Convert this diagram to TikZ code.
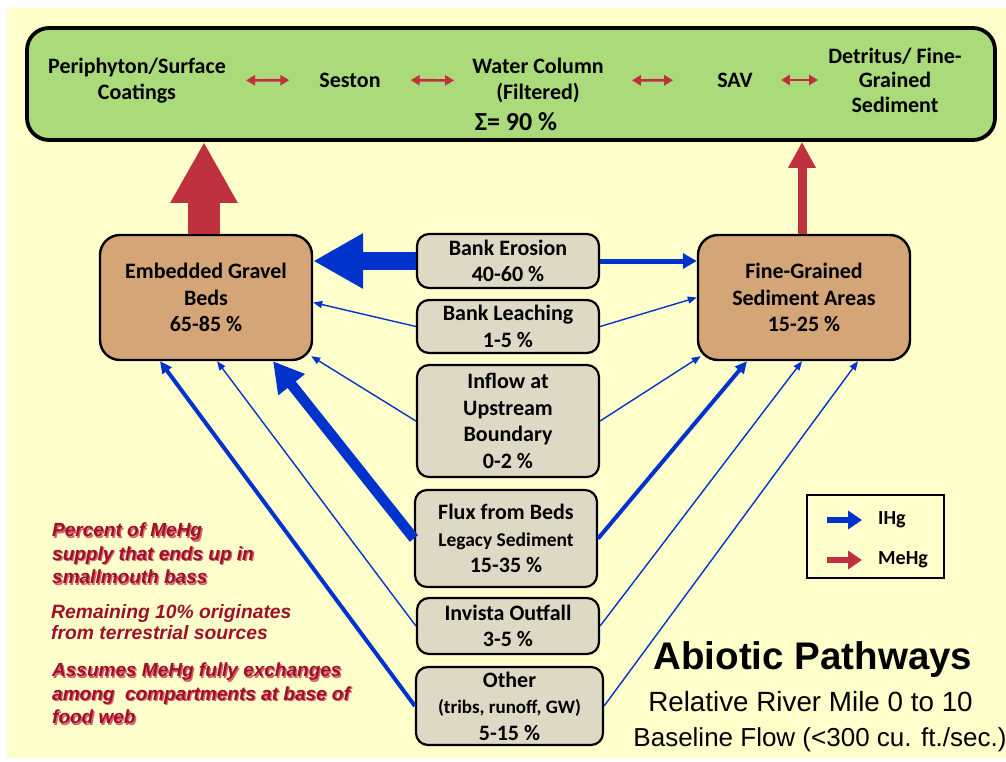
\documentclass[tikz,border=0pt]{standalone}
\usepackage{fontspec}
\setmainfont{Carlito}
\newfontfamily\arialfont{Liberation Sans}
\usetikzlibrary{arrows.meta}
\definecolor{paper}{RGB}{255,255,204}
\definecolor{poolgreen}{RGB}{170,218,122}
\definecolor{sedtan}{RGB}{212,165,118}
\definecolor{srcgray}{RGB}{221,217,196}
\definecolor{ihgblue}{RGB}{0,51,204}
\definecolor{mehgred}{RGB}{192,49,64}
\definecolor{notered}{RGB}{158,16,42}
\definecolor{noteshade}{RGB}{214,96,108}
\begin{document}
\begin{tikzpicture}[x=1pt,y=-1pt,
  lbl/.style={font=\bfseries\fontsize{22}{26.5}\selectfont, align=center, inner sep=0pt},
  sink/.style={lbl, draw, line width=2.4pt, fill=sedtan, rounded corners=20pt, minimum width=212pt, minimum height=125pt},
  src/.style={lbl, draw, line width=2.2pt, fill=srcgray, rounded corners=12pt, minimum width=182pt},
  flow/.style={ihgblue, line width=1.4pt, -{Triangle[length=9pt,width=7pt]}},
  flowmid/.style={ihgblue, line width=4pt, -{Triangle[length=12pt,width=11pt]}},
  swap/.style={mehgred, line width=2.6pt, {Triangle[length=9pt,width=10pt]}-{Triangle[length=9pt,width=10pt]}},
  note/.style={font=\arialfont\bfseries\itshape\fontsize{19}{23.5}\selectfont, align=left, anchor=north west, inner sep=0pt}]
  \useasboundingbox (0,0) rectangle (1006,762);
  \fill[paper] (7,8) rectangle (1006,758);

  \node[draw, line width=3.8pt, fill=poolgreen, rounded corners=22pt, minimum width=968pt, minimum height=112pt] (pool) at (511,84) {};
  \node[lbl] (peri) at (137,80.5) {Periphyton/Surface\\Coatings};
  \node[lbl] (seston) at (350,80) {Seston};
  \node[lbl] (water) at (538,80.5) {Water Column\\(Filtered)};
  \node[lbl, font=\bfseries\fontsize{26}{30}\selectfont] (sigma) at (516,122) {Σ= 90 \%};
  \node[lbl] (sav) at (735,80) {SAV};
  \node[lbl, font=\bfseries\fontsize{22}{24.5}\selectfont] (detritus) at (895,80) {Detritus/ Fine-\\Grained\\Sediment};
  \draw[swap, shorten <=20pt, shorten >=30pt] (peri.east) -- (seston.west);
  \draw[swap, shorten <=30pt, shorten >=18pt] (seston.east) -- (water.west);
  \draw[swap, shorten <=28pt, shorten >=44pt] (water.east) -- (sav.west);
  \draw[swap, shorten <=28pt, shorten >=10pt] (sav.east) -- (detritus.west);

  \node[sink] (gravel) at (206,297.5) {Embedded Gravel\\Beds\\65-85 \%};
  \node[sink] (fine) at (804,297.5) {Fine-Grained\\Sediment Areas\\15-25 \%};

  \node[src, minimum height=54pt] (erosion) at (508,261) {Bank Erosion\\40-60 \%};
  \node[src, minimum height=53pt] (leach) at (508,326.5) {Bank Leaching\\1-5 \%};
  \node[src, minimum height=112pt] (inflow) at (508,421) {Inflow at\\Upstream\\Boundary\\0-2 \%};
  \node[src, minimum height=97pt] (flux) at (506,538.5) {Flux from Beds\\{\fontsize{19.5}{22}\selectfont Legacy Sediment}\\15-35 \%};
  \node[src, minimum height=56pt] (invista) at (508,626) {Invista Outfall\\3-5 \%};
  \node[src, minimum height=78pt, minimum width=187pt] (other) at (509.5,706) {Other\\{\fontsize{19}{22}\selectfont (tribs, runoff, GW)}\\5-15 \%};

  \draw[mehgred, line width=32pt, -{Triangle[length=61pt,width=63pt]}] ([xshift=-2pt]gravel.north) -- ([xshift=-2pt]gravel.north |- pool.south);
  \draw[mehgred, line width=9pt, -{Triangle[length=26pt,width=26pt]}] ([xshift=-2pt]fine.north) -- ([xshift=-2pt]fine.north |- pool.south);

  \draw[ihgblue, line width=18pt, -{Triangle[length=50pt,width=52pt]}] (erosion.west) -- (erosion.west -| gravel.east);
  \draw[ihgblue, line width=5pt, -{Triangle[length=14pt,width=15pt]}] (erosion.east) -- (erosion.east -| fine.west);
  \draw[flow] (leach.west) -- ([yshift=-5pt]gravel.east);
  \draw[flow] (leach.east) -- (fine.west);
  \draw[flow] (inflow.west) -- ([shift={(-2pt,5pt)}]gravel.south east);
  \draw[flow] (inflow.east) -- ([shift={(4pt,5pt)}]fine.south west);
  \draw[ihgblue, line width=10.5pt, -{Triangle[length=30pt,width=32pt]}] (flux.west) -- ([xshift=67pt]gravel.south);
  \draw[flowmid] (flux.east) -- ([xshift=-57pt]fine.south);
  \draw[flow] (invista.west) -- ([xshift=11pt]gravel.south);
  \draw[flow] (invista.east) -- ([xshift=-2pt]fine.south);
  \draw[flowmid] (other.west) -- ([xshift=-46pt]gravel.south);
  \draw[flow] (other.east) -- ([xshift=54pt]fine.south);

  \node[draw, line width=1.3pt, minimum width=137pt, minimum height=83pt] (legend) at (875.5,536.5) {};
  \node[lbl, anchor=west, font=\bfseries\fontsize{20}{24}\selectfont] (ihg) at (878,520) {IHg};
  \node[lbl, anchor=west, font=\bfseries\fontsize{20}{24}\selectfont] (mehg) at (878,560) {MeHg};
  \draw[ihgblue, line width=6.5pt, -{Triangle[length=14pt,width=18pt]}] ([xshift=-51pt]ihg.west) -- ([xshift=-16pt]ihg.west);
  \draw[mehgred, line width=6.5pt, -{Triangle[length=14pt,width=18pt]}] ([xshift=-51pt]mehg.west) -- ([xshift=-16pt]mehg.west);

  \node[font=\arialfont\bfseries\fontsize{38.5}{42}\selectfont, inner sep=0pt] (title) at (813,660) {Abiotic Pathways};
  \node[font=\arialfont\fontsize{27.8}{30}\selectfont, inner sep=0pt] (reach) at (810.5,702) {Relative River Mile 0 to 10};
  \node[font=\arialfont\fontsize{26}{28}\selectfont, inner sep=0pt] (baseflow) at (820,740) {Baseline Flow (<300 cu. ft./sec.)};

  \foreach \s/\d/\c in {s/1.3/noteshade, m/0/notered}{
    \node[note, text=\c] (percent\s) at (52+\d,523+\d) {Percent of MeHg\\supply that ends up in\\smallmouth bass};
    \node[note, text=\c] (assumes\s) at (52+\d,663+\d) {Assumes MeHg fully exchanges\\among\ \ compartments at base of\\food web};
  }
  \node[note, text=notered, font=\arialfont\bfseries\itshape\fontsize{19.3}{21}\selectfont] (remaining) at (51,604) {Remaining 10\% originates\\from terrestrial sources};
\end{tikzpicture}
\end{document}
